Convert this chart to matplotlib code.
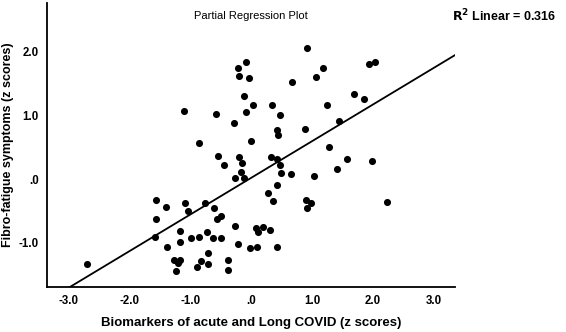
import matplotlib
matplotlib.use("Agg")
import matplotlib.pyplot as plt

plt.rcParams['font.family'] = ['Liberation Sans', 'DejaVu Sans']

# partial regression residuals (z scores)
biomarkers = [0.92, -0.09, -0.21, -0.19, -0.04, 2.04, 1.93, 1.18, 1.06, 0.67,
              -0.11, 1.69, 1.86, 0.03, 0.35, 1.24, -1.10, -0.09, -0.57, 0.48,
              1.45, -0.28, 0.42, 0.88, 0.44, 0.00, -0.85, 1.28, -0.54, -0.20,
              0.33, 0.43, 1.58, 1.99, -0.45, -0.15, 0.48, 1.41, -0.17, 0.50,
              0.66, 1.04, -0.27, -0.12, 0.43, 0.28, 0.36, 0.90, 0.98, 0.92,
              2.23, -1.56, -1.40, -1.09, -0.75, -1.04, -0.60, -1.56, -0.50, -0.56,
              -0.26, 0.08, 0.11, 0.20, 0.31, -1.17, -0.73, -1.58, -0.99, -0.86,
              -0.63, -0.49, -1.17, -0.22, -0.02, 0.09, 0.43, -1.38, -0.70, -1.27,
              -1.16, -1.20, -0.82, -0.88, -0.71, -0.38, -1.23, -0.37, -2.69]
fibro = [2.05, 1.84, 1.75, 1.62, 1.59, 1.83, 1.81, 1.75, 1.60, 1.52,
         1.31, 1.34, 1.25, 1.17, 1.17, 1.16, 1.07, 1.06, 1.02, 1.01,
         0.92, 0.88, 0.77, 0.79, 0.70, 0.60, 0.56, 0.50, 0.37, 0.35,
         0.35, 0.32, 0.31, 0.29, 0.23, 0.26, 0.23, 0.16, 0.12, 0.10,
         0.08, 0.05, 0.02, 0.02, -0.09, -0.22, -0.34, -0.33, -0.37, -0.45,
         -0.35, -0.33, -0.44, -0.38, -0.38, -0.50, -0.45, -0.63, -0.58, -0.63,
         -0.73, -0.77, -0.82, -0.75, -0.79, -0.81, -0.83, -0.91, -0.92, -0.91,
         -0.92, -0.92, -0.98, -1.02, -1.08, -1.06, -1.07, -1.06, -1.15, -1.27,
         -1.26, -1.31, -1.28, -1.38, -1.33, -1.26, -1.44, -1.42, -1.33]

slope = 0.575
intercept = 0.02
r2 = 0.316

x_ticks = [-3, -2, -1, 0, 1, 2, 3]
x_labels = ['-3.0', '-2.0', '-1.0', '.0', '1.0', '2.0', '3.0']
y_ticks = [-1, 0, 1, 2]
y_labels = ['-1.0', '.0', '1.0', '2.0']

fig = plt.figure(figsize=(5.66, 3.32), dpi=100)
ax = fig.add_axes([0.083, 0.1355, 0.721, 0.855])

ax.scatter(biomarkers, fibro, s=26, color='black', linewidths=0, zorder=3)
ax.axline((0, intercept), slope=slope, color='black', linewidth=1.3)

ax.set_xlim(-3.35, 3.35)
ax.set_ylim(-1.69, 2.76)
ax.set_xticks(x_ticks)
ax.set_xticklabels(x_labels, fontsize=8.3, fontweight='bold')
ax.set_yticks(y_ticks)
ax.set_yticklabels(y_labels, fontsize=8.3, fontweight='bold')
ax.tick_params(length=0, pad=6)

for s in ['top', 'right']:
    ax.spines[s].set_visible(False)
for s in ['left', 'bottom']:
    ax.spines[s].set_linewidth(1.3)

ax.set_xlabel('Biomarkers of acute and Long COVID (z scores)', fontsize=9.5,
              fontweight='bold')
ax.xaxis.set_label_coords(0.5, -0.105)
ax.set_ylabel('Fibro-fatigue symptoms (z scores)', fontsize=9,
              fontweight='bold')
ax.yaxis.set_label_coords(-0.081, 0.5)

ax.text(0.5, 0.955, 'Partial Regression Plot', transform=ax.transAxes,
        ha='center', va='center', fontsize=8)
fig.text(0.983, 0.952, '$\\mathbf{R^2}$ Linear = %.3f' % r2, ha='right', va='center',
         fontsize=9, fontweight='bold')

fig.savefig('out.png', dpi=100)
